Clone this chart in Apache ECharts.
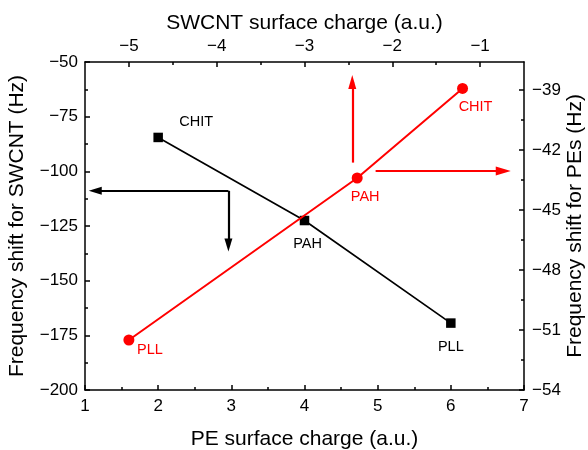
<!DOCTYPE html>
<html><head><meta charset="utf-8">
<script src="https://cdn.jsdelivr.net/npm/echarts@6/dist/echarts.min.js"></script>
<style>html,body{margin:0;padding:0;background:#fff}#c{width:588px;height:450px}</style>
</head><body><div id="c"></div>
<script>
// ---- data ----
const names = ['CHIT', 'PAH', 'PLL'];
const peCharge = [2.0, 4.0, 6.0];            // bottom axis (PE surface charge)
const swcntShift = [-84.5, -122.5, -169.4];  // left axis (Frequency shift for SWCNT)
const swcntCharge = [-1.20, -2.40, -5.00];   // top axis (SWCNT surface charge)
const peShift = [-38.92, -43.4, -51.5];      // right axis (Frequency shift for PEs)

const topTicks = [-5, -4, -3, -2, -1];
const topMinorTicks = [-4.5, -3.5, -2.5, -1.5];
const rightTicks = [-54, -51, -48, -45, -42, -39];
const rightMinorTicks = [-52.5, -49.5, -46.5, -43.5, -40.5];

// arrow annotations (data coordinates)
const blackArrowFrom = [2.96, -108.9];
const blackArrowLeftTo = [1.14, -108.9];
const blackArrowDownTo = [2.96, -133.7];
const redArrowUpFrom = [-2.456, -42.63];
const redArrowUpTo = [-2.456, -38.6];
const redArrowRightFrom = [-2.19, -43.05];
const redArrowRightTo = [-0.736, -43.05];

// label placement (style)
const blackLabelOffsets = [[38, -15], [3, 23.5], [0, 23.5]];
const redLabelOffsets = [[13, 19], [8, 19], [21, 10]];

const FONT = 'Liberation Sans, Arial, sans-serif';
const minus = v => String(v).replace('-', '\u2212');
const axisLineStyle = { color: '#000', width: 1.5 };

function mainAxis(extra) {
  return Object.assign({
    type: 'value',
    axisLine: { show: true, onZero: false, lineStyle: axisLineStyle },
    axisTick: { show: true, inside: true, length: 5, lineStyle: axisLineStyle },
    axisLabel: { color: '#000', fontSize: 17, fontFamily: FONT, formatter: minus },
    splitLine: { show: false },
    nameLocation: 'middle',
    nameMoveOverlap: false,
    nameTextStyle: { color: '#000', fontSize: 21, fontFamily: FONT },
    axisPointer: { show: false }
  }, extra);
}

function arrowEnd(coord, size) {
  return { coord: coord, symbol: 'triangle', symbolSize: size };
}

const chart = echarts.init(document.getElementById('c'), null, { renderer: 'canvas' });
chart.setOption({
  animation: false,
  backgroundColor: '#fff',
  grid: { left: 85, right: 64, top: 62, bottom: 60, outerBoundsMode: 'none', containLabel: false },
  xAxis: [
    mainAxis({
      position: 'bottom', min: 1, max: 7, interval: 1,
      minorTick: { show: true, splitNumber: 2, length: 3, lineStyle: axisLineStyle },
      axisLabel: { color: '#000', fontSize: 17, fontFamily: FONT, margin: 8, formatter: minus },
      name: 'PE surface charge (a.u.)', nameGap: 39
    }),
    mainAxis({
      position: 'top', min: -5.5, max: -0.5,
      axisTick: { show: true, inside: true, length: 5, lineStyle: axisLineStyle, customValues: topTicks },
      axisLabel: { color: '#000', fontSize: 17, fontFamily: FONT, margin: 7, formatter: minus, customValues: topTicks },
      name: 'SWCNT surface charge (a.u.)', nameGap: 28
    }),
    {
      type: 'value', position: 'top', min: -5.5, max: -0.5,
      axisLine: { show: false },
      axisTick: { show: true, inside: true, length: 3, lineStyle: axisLineStyle, customValues: topMinorTicks },
      axisLabel: { show: false },
      splitLine: { show: false }
    }
  ],
  yAxis: [
    mainAxis({
      position: 'left', min: -200, max: -50, interval: 25,
      minorTick: { show: true, splitNumber: 2, length: 3, lineStyle: axisLineStyle },
      axisLabel: { color: '#000', fontSize: 17, fontFamily: FONT, margin: 7, formatter: minus },
      name: 'Frequency shift for SWCNT (Hz)', nameGap: 57, nameRotate: 90
    }),
    mainAxis({
      position: 'right', min: -54, max: -37.6,
      axisTick: { show: true, inside: true, length: 5, lineStyle: axisLineStyle, customValues: rightTicks },
      axisLabel: { color: '#000', fontSize: 17, fontFamily: FONT, margin: 8, formatter: minus, customValues: rightTicks },
      name: 'Frequency shift for PEs (Hz)', nameGap: 41, nameRotate: 90
    }),
    {
      type: 'value', position: 'right', min: -54, max: -37.6,
      axisLine: { show: false },
      axisTick: { show: true, inside: true, length: 3, lineStyle: axisLineStyle, customValues: rightMinorTicks },
      axisLabel: { show: false },
      splitLine: { show: false }
    }
  ],
  series: [
    {
      type: 'line', xAxisIndex: 0, yAxisIndex: 0,
      symbol: 'rect', symbolSize: 9.5, showSymbol: true,
      lineStyle: { color: '#000', width: 1.7 },
      itemStyle: { color: '#000' },
      data: names.map((n, i) => ({
        name: n, value: [peCharge[i], swcntShift[i]],
        label: { show: true, position: 'inside', offset: blackLabelOffsets[i], formatter: n,
                 color: '#000', fontSize: 14.5, fontFamily: FONT }
      })),
      markLine: {
        silent: true, animation: false,
        symbol: ['none', 'triangle'], symbolSize: 12,
        label: { show: false },
        lineStyle: { color: '#000', width: 2.2, type: 'solid' },
        data: [
          [{ coord: blackArrowFrom, symbol: 'none' }, arrowEnd(blackArrowLeftTo, [8, 13])],
          [{ coord: blackArrowFrom, symbol: 'none' }, arrowEnd(blackArrowDownTo, [8, 13])]
        ]
      },
      z: 3
    },
    {
      type: 'line', xAxisIndex: 1, yAxisIndex: 1,
      symbol: 'circle', symbolSize: 11, showSymbol: true,
      lineStyle: { color: '#ff0000', width: 2 },
      itemStyle: { color: '#ff0000' },
      data: names.map((n, i) => ({
        name: n, value: [swcntCharge[i], peShift[i]],
        label: { show: true, position: 'inside', offset: redLabelOffsets[i], formatter: n,
                 color: '#ff0000', fontSize: 14.5, fontFamily: FONT }
      })),
      markLine: {
        silent: true, animation: false,
        symbol: ['none', 'triangle'], symbolSize: 12,
        label: { show: false },
        lineStyle: { color: '#ff0000', width: 2.2, type: 'solid' },
        data: [
          [{ coord: redArrowUpFrom, symbol: 'none' }, arrowEnd(redArrowUpTo, [8, 14])],
          [{ coord: redArrowRightFrom, symbol: 'none' }, arrowEnd(redArrowRightTo, [9, 15])]
        ]
      },
      z: 4
    }
  ]
});
</script></body></html>
